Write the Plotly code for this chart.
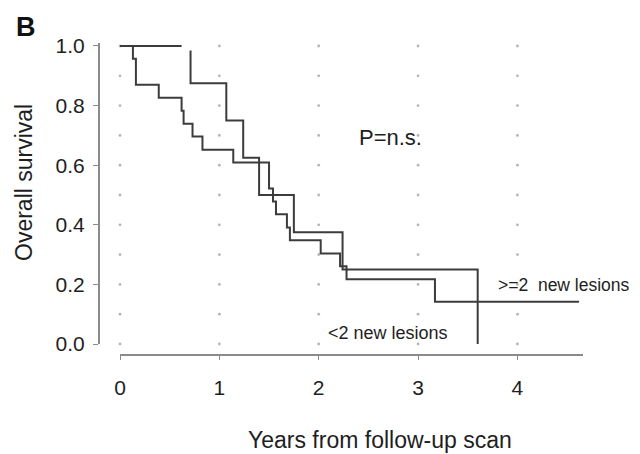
import plotly.graph_objects as go

# Kaplan-Meier data
# Group A (starts with a censored gap)
a_initial_end = 0.62          # survival 1.0 held until here
a_resume_time = 0.71
a_resume_surv = 0.985
a_times = [0.71, 1.07, 1.24, 1.40, 1.75, 2.24, 3.60]
a_surv = [0.875, 0.75, 0.625, 0.50, 0.375, 0.25, 0.0]

# Group B
b_times = [0.13, 0.16, 0.39, 0.62, 0.64, 0.73, 0.83, 1.14, 1.50, 1.54, 1.57,
           1.68, 1.71, 2.02, 2.215, 2.28, 3.17]
b_surv = [0.957, 0.870, 0.826, 0.783, 0.739, 0.696, 0.652, 0.609, 0.522, 0.478,
          0.435, 0.391, 0.348, 0.304, 0.261, 0.217, 0.142]
b_end = 4.62

x_ticks = [0, 1, 2, 3, 4]
y_ticks = [0.0, 0.2, 0.4, 0.6, 0.8, 1.0]
y_ticktext = ["0.0", "0.2", "0.4", "0.6", "0.8", "1.0"]
grid_x = [0, 1, 2, 3, 4]
grid_y = [i / 10 for i in range(11)] + [-0.07]


def step_path(times, surv, start_x, start_y, end_x=None):
    xs, ys = [start_x], [start_y]
    prev = start_y
    for t, s in zip(times, surv):
        xs += [t, t]
        ys += [prev, s]
        prev = s
    if end_x is not None:
        xs.append(end_x)
        ys.append(prev)
    return xs, ys


line_col = "#3c3c3c"
font_fam = "Liberation Sans, Arial, sans-serif"
txt_col = "#1e1e1e"

fig = go.Figure()

# dotted grid
gx, gy = [], []
for x in grid_x:
    for y in grid_y:
        gx.append(x)
        gy.append(y)
fig.add_trace(go.Scatter(x=gx, y=gy, mode="markers",
                         marker=dict(size=2.8, color="#b5b5b5"),
                         cliponaxis=False, hoverinfo="skip", showlegend=False))

# group A
fig.add_trace(go.Scatter(x=[0, a_initial_end], y=[1.0, 1.0], mode="lines",
                         line=dict(color=line_col, width=2), showlegend=False))
ax, ay = step_path(a_times[1:], a_surv[1:], a_resume_time, a_surv[0])
ax = [a_resume_time] + ax
ay = [a_resume_surv] + ay
fig.add_trace(go.Scatter(x=ax, y=ay, mode="lines",
                         line=dict(color=line_col, width=2), showlegend=False))

# group B
bx, by = step_path(b_times, b_surv, 0, 1.0, b_end)
fig.add_trace(go.Scatter(x=bx, y=by, mode="lines",
                         line=dict(color=line_col, width=2), showlegend=False))

ann = dict(showarrow=False, xanchor="center", yanchor="middle")
fig.update_layout(
    width=640, height=454, autosize=False,
    margin=dict(l=99, r=57, t=43, b=99),
    paper_bgcolor="white", plot_bgcolor="white",
    font=dict(family=font_fam, color=txt_col, size=21),
    xaxis=dict(domain=[21 / 484, 1], range=[0, 4.66], anchor="free", position=0,
               tickvals=x_ticks, ticks="outside", ticklen=4, tickcolor="#8a8a8a",
               showline=True, linecolor="#8a8a8a", linewidth=2,
               showgrid=False, zeroline=False, ticklabelstandoff=10,
               tickfont=dict(size=21, color=txt_col)),
    yaxis=dict(domain=[11 / 312, 1], range=[0, 1.01], anchor="free", position=0,
               tickvals=y_ticks, ticktext=y_ticktext, ticks="outside", ticklen=5,
               tickcolor="#8a8a8a", showline=True, linecolor="#8a8a8a", linewidth=2,
               showgrid=False, zeroline=False, ticklabelstandoff=4,
               tickfont=dict(size=21, color=txt_col)),
    annotations=[
        dict(text="Years from follow-up scan", xref="paper", yref="paper",
             x=(380 - 99) / 484, y=(355 - 440) / 312, font=dict(size=23), **ann),
        dict(text="Overall survival", xref="paper", yref="paper", textangle=-90,
             x=(24 - 99) / 484, y=(355 - 183) / 312, font=dict(size=23), **ann),
        dict(text="<b>B</b>", xref="paper", yref="paper",
             x=(26 - 99) / 484, y=(355 - 27) / 312, font=dict(size=27, color="#111"),
             **ann),
        dict(text="P=n.s.", xref="x", yref="y", x=2.72, y=0.693,
             font=dict(size=22), **ann),
        dict(text=">=2  new lesions", xref="x", yref="y", x=4.47, y=0.198,
             font=dict(size=17.5), **ann),
        dict(text="<2 new lesions", xref="x", yref="y", x=2.70, y=0.037,
             font=dict(size=18), **ann),
    ],
)

fig.write_html("out.html", config={"displayModeBar": False},
               post_script="document.body.style.margin='0';document.body.style.overflow='hidden';")
